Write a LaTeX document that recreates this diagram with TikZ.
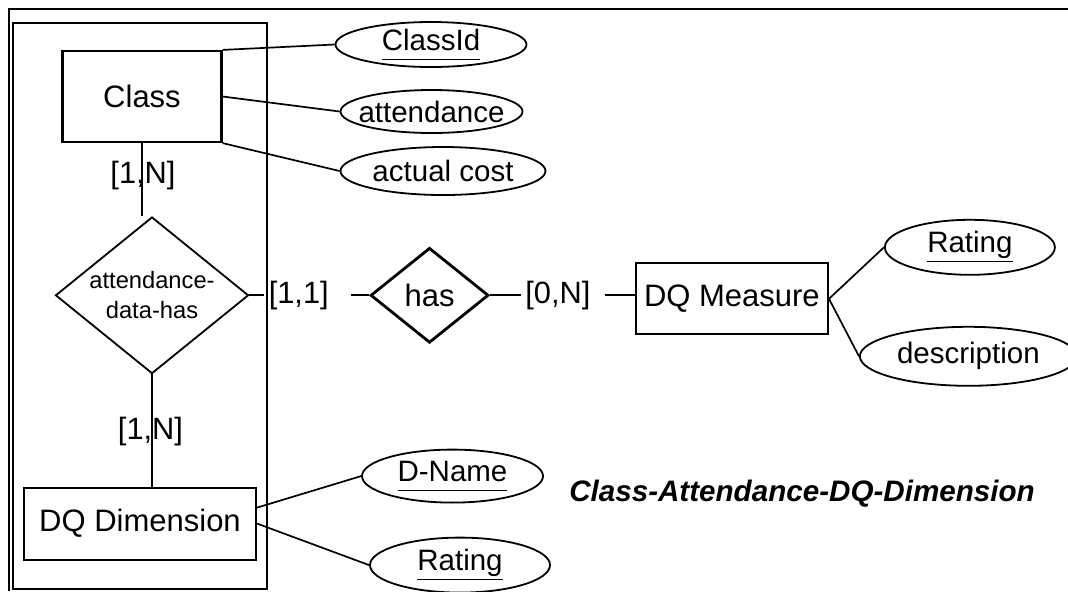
\documentclass[tikz,border=0pt]{standalone}
\usepackage{fontspec}
\setmainfont{Liberation Sans}
\usepackage{tikz}
\usetikzlibrary{shapes.geometric, positioning}
\tikzset{
    entity/.style={rectangle, draw, line width=1.1pt, inner xsep=2pt, font=\fontsize{15.5}{18}\selectfont},
    attr/.style={ellipse, draw, line width=0.9pt, inner sep=-4.5pt, font=\fontsize{14.75}{17}\selectfont},
    relship/.style={diamond, draw, line width=0.9pt, inner sep=-2pt, align=center},
    conn/.style={line width=0.85pt}
}
\newcommand{\keyattr}[1]{\underline{#1\vphantom{g}}}

\begin{document}
\begin{tikzpicture}[x=0.5pt, y=-0.5pt]
    \tikzstyle{card}=[inner sep=2pt, font=\fontsize{15.4}{18}\selectfont]
    \useasboundingbox (0,0) rectangle (1068,591);

    % Frames
    \draw [line width=0.9pt] (9,591) -- (9,9) -- (1068,9);
    \draw [line width=1.1pt] (13,23) rectangle (267,589);

    % Class, attendance-data-has, DQ Dimension
    \node (class) [entity, minimum width=79.5pt, minimum height=45.5pt] at (142,96.5) {Class};
    \node (attdata) [relship, minimum width=96.5pt, minimum height=69pt, font=\fontsize{11.85}{15}\selectfont, below=36.5pt of class, xshift=5pt] {attendance-\\data-has};
    \node (dqdim) [entity, minimum width=116pt, minimum height=36pt, below=56pt of attdata, xshift=-6pt] {DQ Dimension};
    \node (card1) [card, below=7pt of class, xshift=0.5pt] {[1,N]};
    \node (card2) [card, below=19pt of attdata, xshift=-0.75pt] {[1,N]};

    % Attributes of Class
    \node (classid) [attr, minimum width=95.5pt, minimum height=22.5pt, right=56pt of class, yshift=26pt] {\keyattr{ClassId}};
    \node (attendance) [attr, minimum width=91pt, minimum height=21.5pt, right=58.5pt of class, yshift=-7.5pt] {attendance};
    \node (actualcost) [attr, minimum width=102.5pt, minimum height=24pt, right=58.5pt of class, yshift=-37.25pt] {actual cost};

    % Attributes of DQ Dimension
    \node (dname) [attr, minimum width=90.5pt, minimum height=26.5pt, right=52pt of dqdim, yshift=23.75pt] {\keyattr{D-Name}};
    \node (ratingdim) [attr, minimum width=90pt, minimum height=27.5pt, right=56pt of dqdim, yshift=-20.75pt] {\keyattr{Rating}};

    % has, DQ Measure
    \node (card3) [card, right=7.5pt of attdata] {[1,1]};
    \node (has) [relship, line width=1.4pt, minimum width=59pt, minimum height=47.5pt, font=\fontsize{15.5}{18}\selectfont, right=18pt of card3] {has};
    \node (card4) [card, right=15.5pt of has] {[0,N]};
    \node (dqmeas) [entity, minimum width=96pt, minimum height=35.5pt, right=20pt of card4, yshift=-1.75pt] {DQ Measure};
    \node (ratingmeas) [attr, minimum width=85pt, minimum height=27.5pt, right=27.5pt of dqmeas, yshift=25.75pt] {\keyattr{Rating}};
    \node (descr) [attr, minimum width=108.5pt, minimum height=29.5pt, right=15pt of dqmeas, yshift=-28.75pt] {description};

    \node (caption) [font=\fontsize{14.8}{18}\selectfont\bfseries\itshape] at (802,494) {Class-Attendance-DQ-Dimension};

    % Connectors
    \draw [conn] (class.south) -- (class.south |- attdata.north);
    \draw [conn] (attdata.south) -- (attdata.south |- dqdim.north);
    \draw [conn] (class.north east) -- (classid.west);
    \draw [conn] (class.east) -- (attendance.west);
    \draw [conn] (class.south east) -- (actualcost.west);
    \draw [conn] ([yshift=8pt]dqdim.east) -- (dname.west);
    \draw [conn] (dqdim.east) -- (ratingdim.west);
    \draw [conn] (attdata.east) -- (card3.west);
    \draw [conn] ([xshift=9pt]card3.east) -- (has.west);
    \draw [conn] (has.east) -- (card4.west);
    \draw [conn] ([xshift=5pt]card4.east) -- (dqmeas.west |- card4);
    \draw [conn] (dqmeas.east) -- (ratingmeas.west);
    \draw [conn] (dqmeas.east) -- (descr.west);
\end{tikzpicture}
\end{document}
